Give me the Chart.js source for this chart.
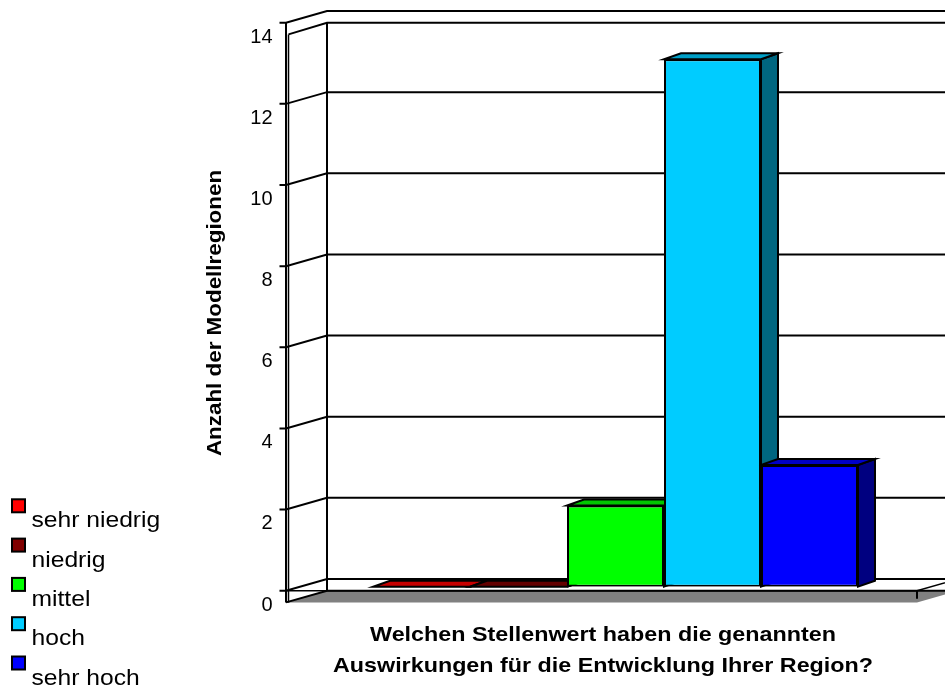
<!DOCTYPE html>
<html>
<head>
<meta charset="utf-8">
<script src="https://cdn.jsdelivr.net/npm/chart.js@4/dist/chart.umd.min.js"></script>
<style>
  html, body { margin: 0; padding: 0; background: #ffffff; overflow: hidden; }
  canvas { display: block; }
</style>
</head>
<body>
<canvas id="chart" width="945" height="689"></canvas>
<script>
// ---- data ----
const ratingLevels = ['sehr niedrig', 'niedrig', 'mittel', 'hoch', 'sehr hoch'];
const regionCounts = [0, 0, 2, 13, 3];
const valueTicks = [0, 2, 4, 6, 8, 10, 12, 14];
const questionLines = ['Welchen Stellenwert haben die genannten', 'Auswirkungen für die Entwicklung Ihrer Region?'];
const valueAxisTitle = 'Anzahl der Modellregionen';

// ---- styles ----
const faceColors = ['#FF0000', '#800000', '#00FF00', '#00CCFF', '#0000FF'];
const FONT = '"Liberation Sans", Arial, Helvetica, sans-serif';

// Perspective offsets relative to the plane in which the bar fronts stand
const FRONT = { dx: -14, dy: 4 };      // front edge of the floor / value axis
const BACK = { dx: 27, dy: -7.7 };     // back wall
const BAR_DEPTH = { dx: 17, dy: -6 };  // depth of each block

function shade(hex, f) {
  const n = parseInt(hex.slice(1), 16);
  const r = Math.round(((n >> 16) & 255) * f);
  const g = Math.round(((n >> 8) & 255) * f);
  const b = Math.round((n & 255) * f);
  return `rgb(${r},${g},${b})`;
}

function path(ctx, pts) {
  ctx.beginPath();
  ctx.moveTo(pts[0][0], pts[0][1]);
  for (let i = 1; i < pts.length; i++) ctx.lineTo(pts[i][0], pts[i][1]);
}

function strokeLine(ctx, pts, w) {
  ctx.lineWidth = w || 2;
  path(ctx, pts);
  ctx.stroke();
}

// text widened along its own direction (the chart's type runs wide)
function wideText(ctx, text, x, y, sx, rot) {
  ctx.save();
  ctx.translate(x, y);
  if (rot) ctx.rotate(rot);
  ctx.scale(sx, 1);
  ctx.fillText(text, 0, 0);
  ctx.restore();
}

// Walls, floor, grid and the depth faces of the blocks
const scenePlugin = {
  id: 'scene3d',
  beforeDatasetsDraw(chart) {
    const { ctx, chartArea: a, scales: { y } } = chart;
    const top = valueTicks[valueTicks.length - 1];
    const fx = a.left + FRONT.dx, fxr = a.right + FRONT.dx;
    const bx = a.left + BACK.dx, bxr = a.right + BACK.dx;
    const fy = v => y.getPixelForValue(v) + FRONT.dy;
    const by = v => y.getPixelForValue(v) + BACK.dy;
    const fy0 = fy(0), by0 = by(0);
    const drop = fy0 - by0;

    ctx.save();
    ctx.strokeStyle = '#000';
    ctx.lineJoin = 'miter';

    // floor slab
    ctx.fillStyle = '#808080';
    path(ctx, [[fx, fy0 + drop], [bx, fy0], [bxr, fy0], [fxr, fy0 + drop]]);
    ctx.closePath();
    ctx.fill();
    strokeLine(ctx, [[fx, fy0 + drop], [bx, fy0], [bxr, fy0]], 2);
    strokeLine(ctx, [[fx, fy0], [fxr, fy0], [bxr, by0]], 1.5);
    strokeLine(ctx, [[fxr, fy0], [fxr, fy0 + 8]], 2);

    // grid on back and side wall, tick marks on the value axis
    valueTicks.forEach(v => {
      strokeLine(ctx, [[fx - 6.5, fy(v)], [fx, fy(v)], [bx, by(v)], [bxr, by(v)]], 2);
    });

    // wall edges
    strokeLine(ctx, [[fx + 2.5, fy(top) + drop], [bx, fy(top)], [bxr, fy(top)]], 2);
    strokeLine(ctx, [[fx, fy(top)], [fx, fy0 + drop]], 2);
    strokeLine(ctx, [[fx + 2.5, fy(top) + drop], [fx + 2.5, fy0 + drop]], 1.5);
    strokeLine(ctx, [[bx, fy(top)], [bx, fy0]], 2);

    // depth faces of the blocks: side then top, left to right
    chart.data.datasets.forEach((ds, i) => {
      const meta = chart.getDatasetMeta(i);
      meta.data.forEach(bar => {
        const p = bar.getProps(['x', 'y', 'base', 'width'], true);
        const l = p.x - p.width / 2, r = p.x + p.width / 2;
        const t = Math.min(p.y, p.base), b = Math.max(p.y, p.base);
        const col = faceColors[i];
        ctx.lineWidth = 2;
        ctx.fillStyle = shade(col, 0.5);
        path(ctx, [[r, t], [r + BAR_DEPTH.dx, t + BAR_DEPTH.dy], [r + BAR_DEPTH.dx, b + BAR_DEPTH.dy], [r, b]]);
        ctx.closePath();
        ctx.fill();
        ctx.stroke();
        ctx.fillStyle = shade(col, 0.78);
        path(ctx, [[l, t], [r, t], [r + BAR_DEPTH.dx, t + BAR_DEPTH.dy], [l + BAR_DEPTH.dx, t + BAR_DEPTH.dy]]);
        ctx.closePath();
        ctx.fill();
        ctx.stroke();
      });
    });
    ctx.restore();
  },

  afterDraw(chart) {
    const { ctx, chartArea: a, scales: { y } } = chart;
    const fx = a.left + FRONT.dx;
    const fy = v => y.getPixelForValue(v) + FRONT.dy;
    ctx.save();
    ctx.fillStyle = '#000';
    ctx.textBaseline = 'alphabetic';

    // value axis labels
    ctx.font = `20px ${FONT}`;
    ctx.textAlign = 'right';
    valueTicks.forEach(v => ctx.fillText(String(v), fx - 13.5, fy(v) + 19.8));

    // value axis title
    ctx.font = `bold 20px ${FONT}`;
    ctx.textAlign = 'center';
    wideText(ctx, valueAxisTitle, 221, 313, 1.12, -Math.PI / 2);

    // category title
    ctx.font = `bold 21px ${FONT}`;
    ctx.textAlign = 'center';
    questionLines.forEach((line, i) => wideText(ctx, line, 603, 641 + i * 30.7, 1.11));

    // legend
    ctx.font = `22px ${FONT}`;
    ctx.textAlign = 'left';
    chart.data.datasets.forEach((ds, i) => {
      const oy = i * 39.3;
      ctx.fillStyle = ds.backgroundColor;
      ctx.fillRect(12, 499.3 + oy, 13, 13);
      ctx.strokeStyle = '#000';
      ctx.lineWidth = 2;
      ctx.strokeRect(12, 499.3 + oy, 13, 13);
      ctx.fillStyle = '#000';
      wideText(ctx, ds.label, 31.5, 527.3 + oy, 1.12);
    });

    ctx.restore();
  }
};

new Chart(document.getElementById('chart'), {
  type: 'bar',
  data: {
    labels: [questionLines],
    datasets: ratingLevels.map((name, i) => ({
      label: name,
      data: [regionCounts[i]],
      backgroundColor: faceColors[i],
      borderColor: '#000',
      borderWidth: 2,
      borderSkipped: false,
      categoryPercentage: 0.7686,
      barPercentage: 1
    }))
  },
  options: {
    responsive: false,
    animation: false,
    events: [],
    layout: { padding: { left: 300, right: 14, top: 18.7, bottom: 102.3 } },
    scales: {
      x: { display: false, offset: true },
      y: { display: false, min: valueTicks[0], max: valueTicks[valueTicks.length - 1], ticks: { stepSize: 2 } }
    },
    plugins: {
      legend: { display: false },
      tooltip: { enabled: false },
      title: { display: false }
    }
  },
  plugins: [scenePlugin]
});
</script>
</body>
</html>
